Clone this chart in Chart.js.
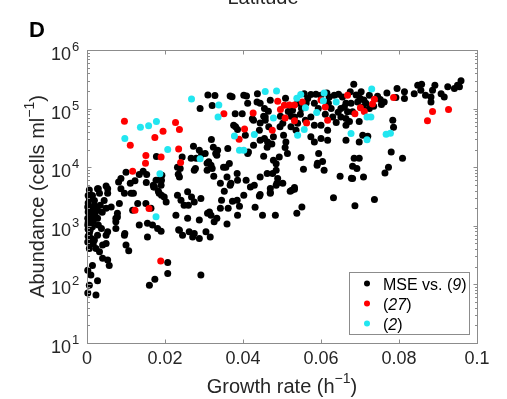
<!DOCTYPE html>
<html>
<head>
<meta charset="utf-8">
<script src="https://cdn.jsdelivr.net/npm/chart.js@4.4.0/dist/chart.umd.min.js"></script>
<style>
  html, body { margin: 0; padding: 0; background: #fff; }
</style>
</head>
<body>
<canvas id="chart" width="507" height="399"></canvas>
<script>
// tick values and labels
const xTicks = [0, 0.02, 0.04, 0.06, 0.08, 0.1];
const xTickLabels = ['0', '0.02', '0.04', '0.06', '0.08', '0.1'];
const yTickExps = [1, 2, 3, 4, 5, 6];

// legend texts: [before, italic, after]
const legendLabels = [['MSE vs. (', '9', ')'], ['(', '27', ')'], ['(', '2', ')']];
const seriesColors = ['#000000', '#ff0000', '#22e6f0'];

// MSE vs. (9) - black
const blackX = [
  0.0006,0.0029,0.0049,0.0027,0.0053,0.0087,0.0032,0.0053,0.0006,0.0019,0.0044,0.0083,0.0096,0.0113,0.0002,0.0014,
  0.0027,0.0049,0.0062,0.0078,0.0074,0.0002,0.0014,0.0027,0.0002,0.0014,0.0006,0.0027,0.0049,0.0053,0.0074,0.0096,
  0.0100,0.0002,0.0019,0.0040,0.0049,0.0023,0.0032,0.0006,0.0040,0.0053,0.0057,0.0014,0.0002,0.0010,0.0027,0.0006,
  0.0002,0.0023,0.0003,0.0003,0.0008,0.0003,0.0016,0.0008,0.0021,0.0003,0.0014,0.0003,0.0034,0.0039,0.0019,0.0029,
  0.0037,0.0003,0.0011,0.0016,
  0.0081,0.0087,0.0100,0.0123,0.0134,0.0144,0.0153,0.0152,0.0170,0.0177,0.0191,0.0178,
  0.0117,0.0130,0.0151,0.0164,0.0134,0.0155,0.0168,0.0181,0.0190,0.0155,0.0173,0.0190,0.0185,0.0198,0.0203,0.0207,
  0.0207,0.0174,0.0160,0.0292,0.0228,0.0237,0.0258,0.0262,0.0275,0.0288,0.0305,0.0318,0.0314,0.0249,0.0258,0.0275,
  0.0292,0.0232,0.0235,0.0245,0.0271,0.0288,0.0316,0.0260,0.0309,0.0241,0.0268,0.0191,0.0183,0.0078,0.0074,0.0097,
  0.0107,
  0.0352,0.0367,0.0402,0.0345,0.0373,0.0385,0.0391,0.0342,0.0362,0.0333,0.0326,0.0359,0.0386,0.0431,0.0444,0.0442,
  0.0470,0.0450,0.0483,0.0521,0.0525,0.0532,0.0538,0.0551,0.0632,0.0485,0.0687,0.0737,
  0.0310,0.0290,0.0321,0.0328,0.0319,0.0273,0.0288,0.0294,0.0267,0.0280,0.0312,0.0324,0.0330,0.0275,0.0308,0.0318,
  0.0325,0.0232,0.0234,0.0237,
  0.0367,0.0409,0.0437,0.0444,0.0412,0.0455,0.0380,0.0398,0.0453,0.0381,0.0386,0.0442,0.0455,0.0463,0.0495,0.0502,
  0.0504,0.0510,0.0508,0.0514,0.0493,0.0485,0.0485,0.0476,0.0489,0.0502,0.0532,0.0470,0.0453,0.0427,0.0412,0.0361,
  0.0335,0.0356,0.0365,0.0386,0.0408,0.0369,0.0429,0.0549,0.0555,0.0591,0.0604,0.0608,0.0649,0.0523,0.0527,0.0540,
  0.0550,0.0566,0.0574,0.0587,0.0600,0.0621,0.0634,0.0655,0.0664,0.0651,0.0626,0.0583,0.0574,0.0583,0.0600,0.0617,
  0.0630,0.0651,0.0664,0.0540,0.0536,0.0574,0.0600,0.0617,0.0583,0.0523,0.0532,
  0.0509,0.0516,0.0547,0.0560,0.0593,0.0611,0.0639,0.0562,0.0470,0.0457,0.0424,0.0406,0.0465,0.0496,0.0619,0.0644,
  0.0684,0.0675,0.0703,0.0724,0.0745,0.0769,0.0795,0.0814,0.0839,0.0856,0.0848,0.0858,0.0892,0.0886,0.0908,0.0925,
  0.0950,0.0959,0.0955,0.0942,0.0882,0.0882,0.0814,0.0792,0.0762,0.0752,0.0677,0.0694,0.0707,0.0660,0.0668,0.0681,
  0.0724,0.0715,0.0673,0.0664,0.0698,0.0784,0.0786,0.0707,0.0720,0.0698,0.0664,0.0780,0.0809,0.0685,0.0698,0.0681,
  0.0692,0.0773,0.0764,0.0681,0.0709,0.0868,0.0916,
  0.0594,0.0590,0.0678,0.0487,0.0470,
  0.0372,0.0402,0.0436,0.0376,0.0427,0.0444,0.0457,0.0466,0.0444,0.0303,0.0244,0.0239,0.0171,0.0188,0.0119,0.0111,
  0.0192,0.0278,0.0321,0.0308,0.0333,0.0350,0.0359,0.0385,0.0342,0.0419,0.0444,0.0462,0.0478,0.0414,0.0462,0.0478,
  0.0474,
  0.0735,0.0755,0.0700,0.0690,0.0710,0.0557,0.0615,0.0645
];
const blackY = [
  4100,4300,4800,4300,4300,4300,3600,3600,2900,2700,2700,2400,3600,3600,2100,2000,
  1850,2000,2100,1630,1340,1340,1420,1340,1030,960,740,690,690,790,900,690,
  470,530,570,470,500,410,360,410,280,260,210,210,175,144,115,97,
  71,66,1720,1150,840,660,1200,1720,1650,2450,3300,3300,2250,1700,2250,1030,
  900,870,610,490,
  5600,6400,8200,5900,7500,8500,7500,5500,4900,6000,6000,15200,
  1850,2400,2400,2000,1030,1100,1030,900,810,645,4600,4900,3600,3100,2550,154,
  237,122,97,144,1520,840,1340,790,740,1250,790,1520,1720,2250,3800,2550,
  2930,3330,860,690,645,610,645,2250,1630,2740,3100,3330,3900,1420,1170,740,
  375,
  3900,4900,3330,2740,2630,2740,2160,2000,2000,1340,1170,1070,1520,2070,3420,3240,
  3700,1520,1520,3900,4060,4200,1630,2100,3000,4940,2200,2800,
  170000,100000,113000,167000,29700,22700,19500,16700,14200,14200,12400,22000,17200,8900,8900,10800,
  7000,10000,7600,6800,
  164000,164000,180000,123000,123000,100000,82000,82000,74000,49000,44000,42800,31000,27000,49000,56000,
  35200,27000,21600,17200,15000,11400,8900,7800,6400,5300,4500,4350,15400,23700,17200,20800,
  19500,10000,11600,6000,6000,5300,4940,14700,9200,11700,12500,8900,7000,74000,94000,123000,
  100000,148000,174000,176000,169000,158000,169000,158000,123000,100000,100000,123000,72000,52000,52000,42800,
  72000,72000,68000,56000,42800,33000,31000,28900,27000,49000,72000,
  150000,89000,80000,63000,100000,80000,58000,125000,139000,63000,67000,35000,90000,74000,123000,87000,
  260000,194000,194000,169000,162000,184000,220000,194000,180000,206000,250000,260000,250000,206000,180000,235000,
  250000,300000,235000,220000,130000,158000,148000,155000,130000,143000,123000,130000,107000,107000,88000,88000,
  100000,123000,60000,52000,60000,63400,48000,35200,33800,27000,28900,18200,14200,14200,14200,10400,
  9500,10000,8000,6400,6800,169000,158000,
  17200,10800,6500,5300,3600,
  160000,169000,130000,52000,63000,57000,72000,49000,28900,17200,15000,9500,4600,6200,3600,5300,
  7300,9500,9500,11700,16000,10000,6800,7800,5300,4600,6800,7800,13200,18200,22000,33000,
  25000,
  110000,118000,150000,170000,140000,180000,185000,175000
];

// (27) - red
const redX = [
  0.0096,0.0111,0.0151,0.0150,0.0117,0.0174,0.0195,0.0190,0.0227,0.0237,0.0235,0.0240,0.0123,0.0159,0.0189,
  0.0351,0.0426,0.0489,0.0496,0.0506,0.0519,0.0532,0.0552,0.0508,0.0532,0.0563,0.0617,0.0475,0.0404,0.0390,
  0.0600,0.0668,0.0737,0.0732,0.0786,0.0701,0.0711,0.0687,0.0886,0.0927,0.0873,0.0611
];
const redY = [
  61000,23700,15800,11700,8500,32000,41000,15000,58000,44000,20500,12000,1850,1980,250,
  82000,84000,134000,97000,114000,115000,115000,130000,69000,62000,57000,63000,42800,45000,30000,
  140000,169000,145000,120000,155000,103000,89000,82000,89000,97000,62000,107000
];

// (2) - cyan
const cyanX = [
  0.0097,0.0137,0.0158,0.0178,0.0207,0.0187,0.0268,0.0290,0.0336,0.0338,0.0457,0.0486,0.0538,0.0548,0.0608,0.0606,
  0.0639,0.0560,0.0589,0.0478,0.0429,0.0378,0.0540,0.0557,0.0391,0.0402,0.0730,0.0718,0.0728,0.0677,0.0718,0.0767,
  0.0778,0.0177
];
const cyanY = [
  31000,48000,51000,60000,20000,7700,146000,14000,72000,115000,196000,200000,150000,174000,185000,136000,
  130000,103000,86000,69000,36000,34000,35000,44000,19500,19500,215000,72000,72000,37500,29500,36500,
  38000,1430
];

const FONT = '"Liberation Sans", Arial, Helvetica, sans-serif';
const TXT = '#262626';

function pts(xs, ys) {
    return xs.map((x, i) => ({x: x, y: ys[i]}));
}

// Matlab-like box, inward ticks, superscript labels
const axesDecor = {
    id: 'axesDecor',
    afterDatasetsDraw(chart) {
        const ctx = chart.ctx;
        const a = chart.chartArea;
        const sx = chart.scales.x, sy = chart.scales.y;
        const L = Math.round(a.left) + 0.5, R = Math.round(a.right) + 0.5;
        const T = Math.round(a.top) + 0.5, B = Math.round(a.bottom) + 0.5;
        ctx.save();
        ctx.strokeStyle = '#8c8c8c';
        ctx.lineWidth = 1;
        ctx.strokeRect(L, T, R - L, B - T);

        ctx.beginPath();
        xTicks.forEach(v => {
            const px = Math.round(sx.getPixelForValue(v)) + 0.5;
            ctx.moveTo(px, B); ctx.lineTo(px, B - 4);
            ctx.moveTo(px, T); ctx.lineTo(px, T + 4);
        });
        for (let e = yTickExps[0]; e <= yTickExps[yTickExps.length - 1]; e++) {
            const py = Math.round(sy.getPixelForValue(Math.pow(10, e))) + 0.5;
            ctx.moveTo(L, py); ctx.lineTo(L + 4, py);
            ctx.moveTo(R, py); ctx.lineTo(R - 4, py);
            if (e === yTickExps[yTickExps.length - 1]) break;
            for (let m = 2; m <= 9; m++) {
                const pm = Math.round(sy.getPixelForValue(m * Math.pow(10, e))) + 0.5;
                ctx.moveTo(L, pm); ctx.lineTo(L + 2.5, pm);
                ctx.moveTo(R, pm); ctx.lineTo(R - 2.5, pm);
            }
        }
        ctx.stroke();

        ctx.fillStyle = TXT;
        ctx.textBaseline = 'alphabetic';
        // x tick labels
        ctx.font = '18px ' + FONT;
        ctx.textAlign = 'center';
        xTicks.forEach((v, i) => {
            ctx.fillText(xTickLabels[i], sx.getPixelForValue(v), a.bottom + 21);
        });
        // y tick labels 10^n
        yTickExps.forEach(e => {
            const py = sy.getPixelForValue(Math.pow(10, e));
            ctx.font = '18px ' + FONT;
            ctx.textAlign = 'right';
            ctx.fillText('10', a.left - 16, py + 10);
            ctx.font = '13px ' + FONT;
            ctx.textAlign = 'left';
            ctx.fillText(String(e), a.left - 15, py + 1);
        });

        // x title
        const big = '20px ' + FONT, sup = '14px ' + FONT;
        ctx.textAlign = 'left';
        ctx.font = big;
        const xa = 'Growth rate (h', xc = ')';
        const wa = ctx.measureText(xa).width, wc = ctx.measureText(xc).width;
        ctx.font = sup;
        const wb = ctx.measureText('\u22121').width;
        let x0 = (a.left + a.right) / 2 - (wa + wb + wc) / 2;
        ctx.font = big; ctx.fillText(xa, x0, 393);
        ctx.font = sup; ctx.fillText('\u22121', x0 + wa, 383);
        ctx.font = big; ctx.fillText(xc, x0 + wa + wb, 393);

        // y title (rotated)
        ctx.save();
        ctx.translate(44, (a.top + a.bottom) / 2);
        ctx.rotate(-Math.PI / 2);
        ctx.font = big;
        const ya = 'Abundance (cells ml', yc = ')';
        const ywa = ctx.measureText(ya).width, ywc = ctx.measureText(yc).width;
        ctx.font = sup;
        const ywb = ctx.measureText('\u22121').width;
        const y0 = -(ywa + ywb + ywc) / 2;
        ctx.font = big; ctx.fillText(ya, y0, 0);
        ctx.font = sup; ctx.fillText('\u22121', y0 + ywa, -10);
        ctx.font = big; ctx.fillText(yc, y0 + ywa + ywb, 0);
        ctx.restore();

        // panel letter and clipped title from the panel above
        ctx.font = 'bold 22px ' + FONT;
        ctx.fillStyle = '#000';
        ctx.fillText('D', 29, 37);
        ctx.font = '20px ' + FONT;
        ctx.fillStyle = TXT;
        ctx.textAlign = 'center';
        ctx.fillText('Latitude', 263, 4);
        ctx.restore();
    },
    afterDraw(chart) {
        // legend box
        const ctx = chart.ctx;
        ctx.save();
        ctx.fillStyle = '#fff';
        ctx.fillRect(349.5, 272.5, 120, 62);
        ctx.strokeStyle = '#8c8c8c';
        ctx.lineWidth = 1;
        ctx.strokeRect(349.5, 272.5, 120, 62);
        ctx.textBaseline = 'alphabetic';
        ctx.textAlign = 'left';
        legendLabels.forEach((parts, i) => {
            const cy = 283.5 + i * 20;
            ctx.fillStyle = seriesColors[i];
            ctx.beginPath();
            ctx.arc(367, cy, 3, 0, Math.PI * 2);
            ctx.fill();
            ctx.fillStyle = '#000';
            let x = 383;
            parts.forEach((p, j) => {
                ctx.font = (j === 1 ? 'italic ' : '') + '16px ' + FONT;
                ctx.fillText(p, x, cy + 6);
                x += ctx.measureText(p).width;
            });
        });
        ctx.restore();
    }
};

const dotStyle = {pointRadius: 3.5, pointHoverRadius: 3.5, pointBorderWidth: 0, borderWidth: 0, clip: false};

new Chart(document.getElementById('chart'), {
    type: 'scatter',
    data: {
        datasets: [
            Object.assign({label: 'MSE vs. (9)', data: pts(blackX, blackY), backgroundColor: seriesColors[0], order: 3}, dotStyle),
            Object.assign({label: '(27)', data: pts(redX, redY), backgroundColor: seriesColors[1], order: 2}, dotStyle),
            Object.assign({label: '(2)', data: pts(cyanX, cyanY), backgroundColor: seriesColors[2], order: 1}, dotStyle)
        ]
    },
    options: {
        responsive: false,
        animation: false,
        devicePixelRatio: 1,
        layout: {padding: {left: 87, right: 30, top: 50, bottom: 56}},
        plugins: {legend: {display: false}, tooltip: {enabled: false}},
        events: [],
        scales: {
            x: {type: 'linear', min: 0, max: 0.1, display: false},
            y: {type: 'logarithmic', min: 10, max: 1e6, display: false}
        }
    },
    plugins: [axesDecor]
});
</script>
</body>
</html>
